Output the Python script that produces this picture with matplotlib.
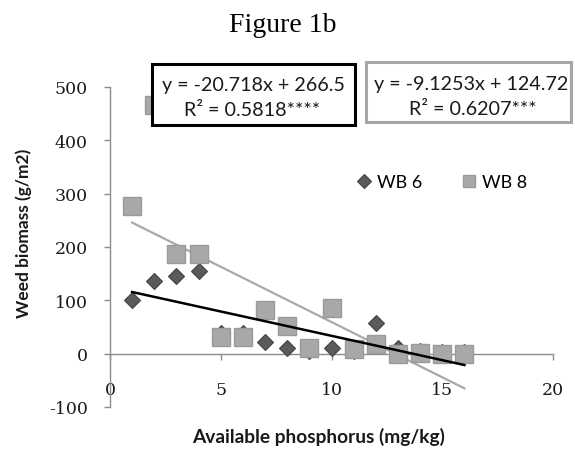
import matplotlib
matplotlib.use("Agg")
import matplotlib.pyplot as plt
from matplotlib.patches import Rectangle
import numpy as np

plt.rcParams['axes.unicode_minus'] = False

# ---- data ----
phosphorus = [1, 2, 3, 4, 5, 6, 7, 8, 9, 10, 11, 12, 13, 14, 15, 16]
wb6 = [100, 137, 145, 155, 38, 38, 22, 11, 5, 11, 5, 57, 10, 5, 3, 3]
wb8 = [277, 466, 187, 187, 31, 31, 82, 52, 11, 86, 9, 19, 0, 2, 0, 0]
series_names = ["WB 6", "WB 8"]
# trend-line coefficients (slope, intercept)
trend_wb6 = [-9.1253, 124.72]
trend_wb8 = [-20.718, 266.5]
eq_black = ["y = -20.718x + 266.5", "R\u00b2 = 0.5818****"]
eq_gray = ["y = -9.1253x + 124.72", "R\u00b2 = 0.6207***"]
x_ticks = [0, 5, 10, 15, 20]
y_ticks = [-100, 0, 100, 200, 300, 400, 500]
title = "Figure 1b"
x_label = "Available phosphorus (mg/kg)"
y_label = "Weed biomass (g/m2)"

W, H = 575, 452
fig = plt.figure(figsize=(W / 100, H / 100), dpi=100)
ax = fig.add_axes([110 / W, 1 - 408 / H, 443 / W, 320 / H])
ax.set_xlim(0, 20)
ax.set_ylim(-100, 500)

axis_col = "#8c8c8c"
for s in ["top", "right"]:
    ax.spines[s].set_visible(False)
ax.spines["left"].set_color(axis_col)
ax.spines["bottom"].set_color(axis_col)
ax.spines["bottom"].set_position(("data", 0))
ax.spines["left"].set_linewidth(1.0)
ax.spines["bottom"].set_linewidth(1.0)

ax.set_xticks(x_ticks)
ax.set_yticks(y_ticks)
ax.set_xticklabels([str(v) for v in x_ticks])
ax.set_yticklabels([str(v) for v in y_ticks])
ax.tick_params(axis="both", direction="out", length=4, width=1.0, color=axis_col)
ax.tick_params(axis="x", pad=16)
ax.tick_params(axis="y", pad=12)
for lab in ax.get_xticklabels() + ax.get_yticklabels():
    lab.set_fontfamily("DejaVu Serif")
    lab.set_fontsize(12.5)
    lab.set_color("#1a1a1a")

ax.patch.set_alpha(0)

# trend lines
xx = np.array([phosphorus[0], phosphorus[-1]], dtype=float)
ax.plot(xx, trend_wb8[0] * xx + trend_wb8[1], color="#a9a9a9", lw=1.6, zorder=3)

# points
ax.plot(phosphorus, wb6, linestyle="none", marker="D", markersize=8.2,
        markerfacecolor="#5a5a5a", markeredgecolor="#444444", markeredgewidth=0.8,
        zorder=4, label=series_names[0])
ax.plot(phosphorus, wb8, linestyle="none", marker="s", markersize=12.5,
        markerfacecolor="#a8a8a8", markeredgecolor="#9a9a9a", markeredgewidth=1.0,
        zorder=5, label=series_names[1])
ax.plot(xx, trend_wb6[0] * xx + trend_wb6[1], color="#000000", lw=1.8, zorder=6)

leg = ax.legend(loc="center", bbox_to_anchor=(442 / W, 1 - 183 / H),
                bbox_transform=fig.transFigure, ncol=2, frameon=False,
                handlelength=0.8, handletextpad=0.3, columnspacing=2.2,
                prop={"family": "Lato", "size": 13})
leg.legend_handles[0].set_markersize(7)
leg.legend_handles[1].set_markersize(9)

# equation boxes
fig.add_artist(Rectangle((152 / W, 1 - 126 / H), 203 / W, 61 / H,
                         transform=fig.transFigure, facecolor="white",
                         edgecolor="black", linewidth=2.2, zorder=5))
fig.add_artist(Rectangle((366 / W, 1 - 123 / H), 205 / W, 60 / H,
                         transform=fig.transFigure, facecolor="white",
                         edgecolor="#a6a6a6", linewidth=2.2, zorder=5))
eq_font = dict(family="Lato", size=14.2, color="#1a1a1a", zorder=6)
fig.text(253 / W, 1 - 91 / H, eq_black[0], ha="center", va="baseline", **eq_font)
fig.text(252 / W, 1 - 116 / H, eq_black[1], ha="center", va="baseline", **eq_font)
fig.text(471 / W, 1 - 90 / H, eq_gray[0], ha="center", va="baseline", **eq_font)
fig.text(473 / W, 1 - 115 / H, eq_gray[1], ha="center", va="baseline", **eq_font)

# titles
fig.text(283 / W, 1 - 32 / H, title, ha="center", va="baseline",
         family="Liberation Serif", size=20, color="black")
fig.text(319 / W, 1 - 443 / H, x_label, ha="center", va="baseline",
         family="Lato", weight="bold", size=13.8, color="#1a1a1a")
fig.text(24 / W, 1 - 233 / H, y_label, ha="center", va="center", rotation=90,
         family="Lato", weight="bold", size=12.5, color="#1a1a1a")

fig.savefig("out.png", dpi=100)
